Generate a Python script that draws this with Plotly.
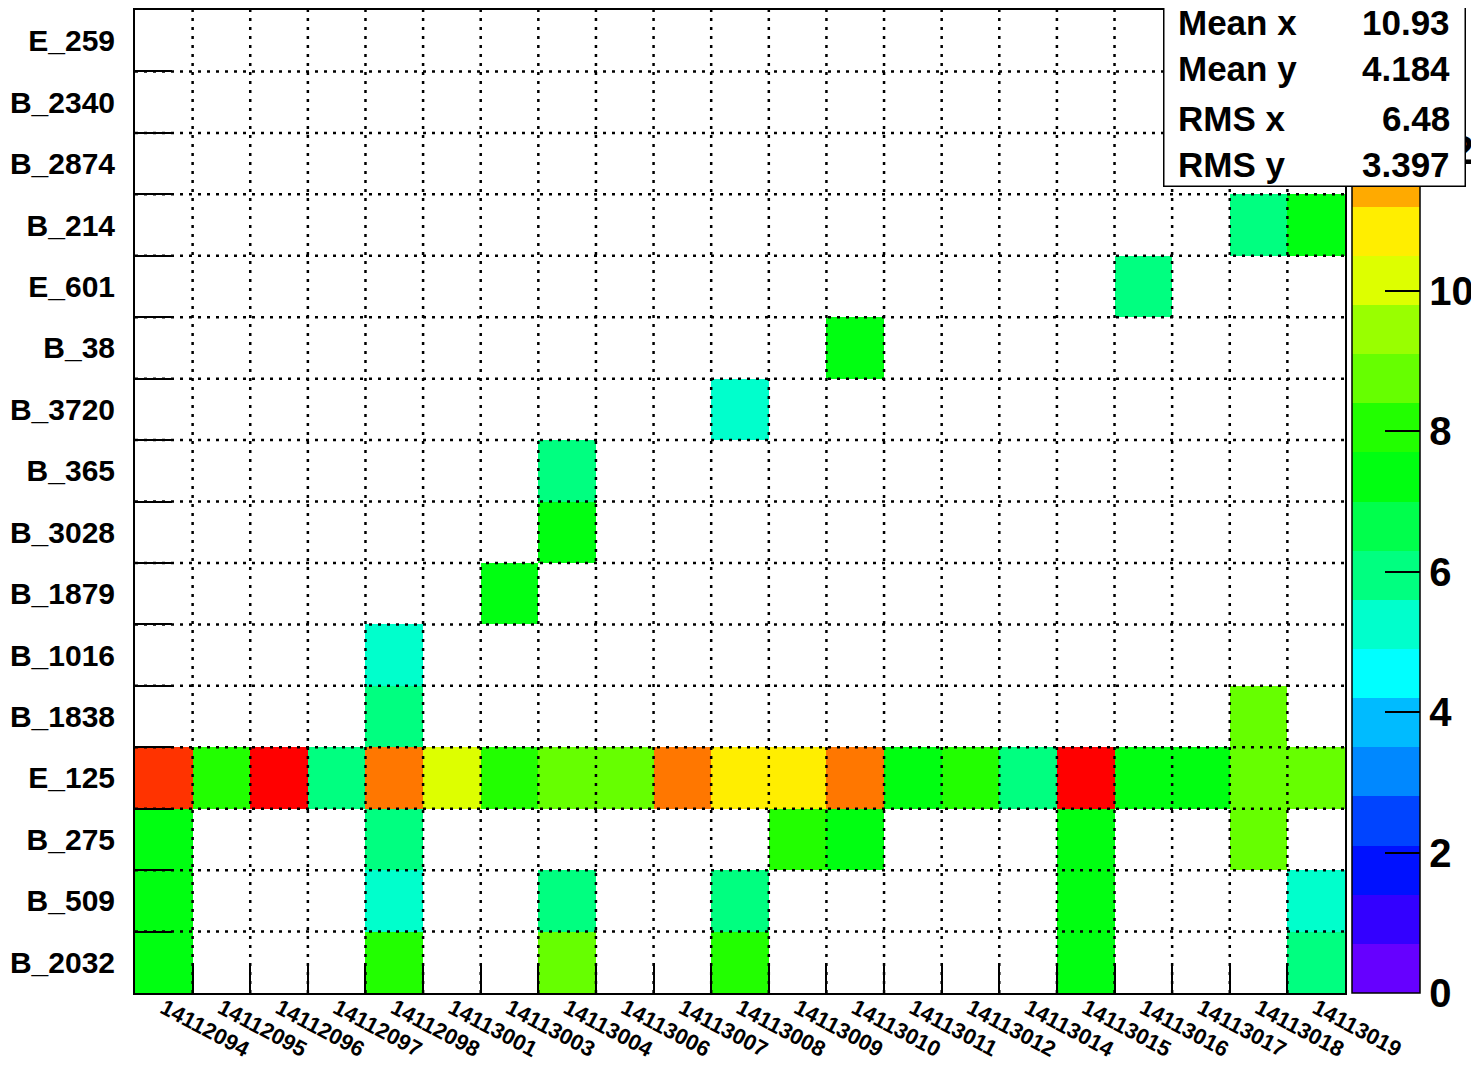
import plotly.graph_objects as go

# ---------------- data ----------------
x_labels = ["14112094", "14112095", "14112096", "14112097", "14112098", "14113001",
            "14113003", "14113004", "14113006", "14113007", "14113008", "14113009",
            "14113010", "14113011", "14113012", "14113014", "14113015", "14113016",
            "14113017", "14113018", "14113019"]

# bottom -> top (ROOT bin order)
y_labels = ["B_2032", "B_509", "B_275", "E_125", "B_1838", "B_1016", "B_1879", "B_3028",
            "B_365", "B_3720", "B_38", "E_601", "B_214", "B_2874", "B_2340", "E_259"]

N = None
row_B_2032 = [7, N, N, N, 8, N, N, 9, N, N, 8, N, N, N, N, N, 7, N, N, N, 6]
row_B_509  = [7, N, N, N, 5, N, N, 6, N, N, 6, N, N, N, N, N, 7, N, N, N, 5]
row_B_275  = [7, N, N, N, 6, N, N, N, N, N, N, 8, 7, N, N, N, 7, N, N, 9, N]
row_E_125  = [13, 8, 14, 6, 12, 10, 8, 9, 9, 12, 11, 11, 12, 7, 8, 6, 14, 7, 7, 9, 9]
row_B_1838 = [N, N, N, N, 6, N, N, N, N, N, N, N, N, N, N, N, N, N, N, 9, N]
row_B_1016 = [N, N, N, N, 5, N, N, N, N, N, N, N, N, N, N, N, N, N, N, N, N]
row_B_1879 = [N, N, N, N, N, N, 7, N, N, N, N, N, N, N, N, N, N, N, N, N, N]
row_B_3028 = [N, N, N, N, N, N, N, 7, N, N, N, N, N, N, N, N, N, N, N, N, N]
row_B_365  = [N, N, N, N, N, N, N, 6, N, N, N, N, N, N, N, N, N, N, N, N, N]
row_B_3720 = [N, N, N, N, N, N, N, N, N, N, 5, N, N, N, N, N, N, N, N, N, N]
row_B_38   = [N, N, N, N, N, N, N, N, N, N, N, N, 7, N, N, N, N, N, N, N, N]
row_E_601  = [N, N, N, N, N, N, N, N, N, N, N, N, N, N, N, N, N, 6, N, N, N]
row_B_214  = [N, N, N, N, N, N, N, N, N, N, N, N, N, N, N, N, N, N, N, 6, 7]
row_B_2874 = [N] * 21
row_B_2340 = [N] * 21
row_E_259  = [N] * 21

z_rows = [row_B_2032, row_B_509, row_B_275, row_E_125, row_B_1838, row_B_1016,
          row_B_1879, row_B_3028, row_B_365, row_B_3720, row_B_38, row_E_601,
          row_B_214, row_B_2874, row_B_2340, row_E_259]

z_min, z_max = 0, 14
cbar_ticks = [0, 2, 4, 6, 8, 10, 12, 14]

stat_names = ["Mean x", "Mean y", "RMS x", "RMS y"]
stat_values = ["10.93", "4.184", "6.48", "3.397"]

# ROOT rainbow palette (20 contour levels)
palette = ["#6600ff", "#3300ff", "#0011ff", "#0044ff", "#0088ff", "#00bbff", "#00ffff",
           "#00ffcc", "#00ff80", "#00ff4c", "#00ff11", "#22ff00", "#66ff00", "#99ff00",
           "#ddff00", "#ffee00", "#ffaa00", "#ff7700", "#ff3300", "#ff0000"]

# ---------------- layout geometry ----------------
OFF = 8  # page body margin of the html page
W, H = 1479 - OFF, 1067 - OFF
L, R, T, B = 135 - OFF, 1345 - OFF, 10 - OFF, 993 - OFF
pw, ph = R - L, B - T

def px(xs):
    return (xs - OFF - L) / pw

def py(ys):
    return (B - (ys - OFF)) / ph

nb = len(palette)
eps = 1e-6
colorscale = []
for i, c in enumerate(palette):
    lo = 0.0 if i == 0 else i / nb - eps
    hi = 1.0 if i == nb - 1 else (i + 1) / nb - eps
    colorscale.append([lo, c])
    colorscale.append([hi, c])

nx, ny = len(x_labels), len(y_labels)
xc = [i + 0.5 for i in range(nx)]
yc = [j + 0.5 for j in range(ny)]

FONT = "Liberation Sans, Arial, Helvetica, sans-serif"

fig = go.Figure()
fig.add_trace(go.Heatmap(
    z=z_rows, x=xc, y=yc, zmin=z_min, zmax=z_max, colorscale=colorscale,
    hoverongaps=False,
    colorbar=dict(
        x=px(1352), xanchor="left", xpad=0, y=0.5, yanchor="middle", ypad=0,
        len=1, lenmode="fraction", thickness=68, thicknessmode="pixels",
        outlinewidth=1.5, outlinecolor="black",
        tickmode="array", tickvals=cbar_ticks, ticks="inside", ticklen=35,
        tickwidth=2, tickcolor="black",
        tickfont=dict(family=FONT, size=40, color="black", weight="bold"),
    ),
))

# dotted grid drawn above cells (ROOT style)
grid = dict(color="black", width=2.5, dash="3px,6px")
for i in range(1, nx):
    fig.add_shape(type="line", xref="x", yref="y", x0=i, x1=i, y0=0, y1=ny,
                  line=grid, layer="above")
for j in range(1, ny):
    fig.add_shape(type="line", xref="x", yref="y", x0=0, x1=nx, y0=j, y1=j,
                  line=grid, layer="above")

fig.update_xaxes(
    range=[0, nx], tickmode="array", tickvals=xc, ticktext=x_labels, ticks="",
    tickangle=28, tickfont=dict(family=FONT, size=22, color="black", weight="bold"),
    ticklabelstandoff=-8,
    showgrid=False, zeroline=False, showline=True, linecolor="black", linewidth=2,
    mirror=True, layer="above traces",
    minor=dict(tickmode="array", tickvals=list(range(1, nx)), ticks="inside",
               ticklen=30, tickwidth=2, tickcolor="black", showgrid=False),
)
fig.update_yaxes(
    range=[0, ny], tickmode="array", tickvals=yc, ticktext=y_labels, ticks="",
    tickfont=dict(family=FONT, size=30, color="black", weight="bold"),
    ticklabelstandoff=12,
    showgrid=False, zeroline=False, showline=True, linecolor="black", linewidth=2,
    mirror=True, layer="above traces",
    minor=dict(tickmode="array", tickvals=list(range(1, ny)), ticks="inside",
               ticklen=37, tickwidth=2, tickcolor="black", showgrid=False),
)

# stats box
annotations = [dict(
    xref="paper", yref="paper", x=px(1163), y=py(187), xanchor="left", yanchor="bottom",
    text="", width=300, height=200, borderpad=0, bgcolor="white",
    bordercolor="black", borderwidth=1.5, showarrow=False,
)]
row_y = [22, 68, 118, 165]
for name, val, yy in zip(stat_names, stat_values, row_y):
    annotations.append(dict(xref="paper", yref="paper", x=px(1176), y=py(yy),
                            xanchor="left", yanchor="middle", text=name, showarrow=False,
                            font=dict(family=FONT, size=35, color="black", weight="bold")))
    annotations.append(dict(xref="paper", yref="paper", x=px(1452), y=py(yy),
                            xanchor="right", yanchor="middle", text=val, showarrow=False,
                            font=dict(family=FONT, size=35, color="black", weight="bold")))

fig.update_layout(
    width=W, height=H,
    margin=dict(l=L, r=W - R, t=T, b=H - B, autoexpand=False),
    paper_bgcolor="white", plot_bgcolor="white",
    annotations=annotations, showlegend=False,
)

fig.write_html("out.html")
